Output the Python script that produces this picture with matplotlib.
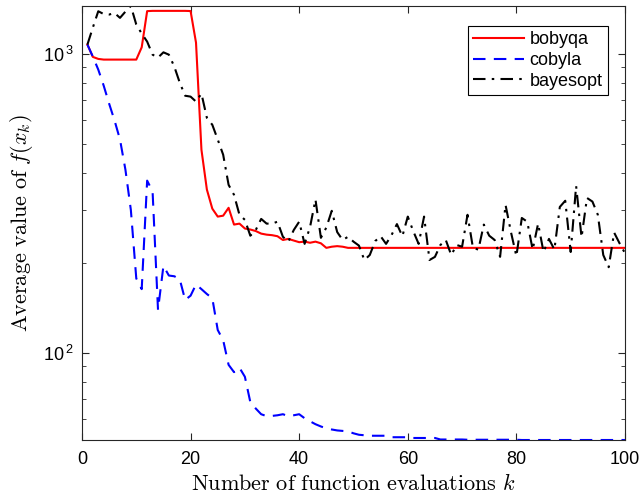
import numpy as np
import matplotlib
matplotlib.use("Agg")
import matplotlib.pyplot as plt
from matplotlib.ticker import FixedLocator, FuncFormatter, LogLocator, NullFormatter

plt.rcParams['mathtext.fontset'] = 'custom'
plt.rcParams['mathtext.rm'] = 'Liberation Sans'
plt.rcParams['font.family'] = ['Liberation Sans', 'DejaVu Sans']

evals = np.arange(1, 101)

bobyqa = [1072, 975, 960, 955, 955, 955, 955, 955, 955, 955,
          1050, 1387, 1390, 1390, 1390, 1390, 1390, 1390, 1390, 1388,
          1088, 477, 351, 303, 285, 287, 305, 268, 270, 260,
          258, 255, 250, 248, 247, 245, 238, 240, 237, 234,
          235, 233, 235, 232, 224, 226, 227, 226, 224, 224,
          224, 224, 224, 224, 224, 224, 224, 224, 224, 224,
          224, 224, 224, 224, 224, 224, 224, 224, 224, 224,
          224, 224, 224, 224, 224, 224, 224, 224, 224, 224,
          224, 224, 224, 224, 224, 224, 224, 224, 224, 224,
          224, 224, 224, 224, 224, 224, 224, 224, 224, 224]

cobyla = [1072, 977, 884, 781, 680, 597, 516, 409, 300, 177,
          163, 376, 346, 139, 195, 181, 180, 176, 150, 155,
          169, 163, 157, 152, 119, 110, 91, 86, 89, 83,
          68.3, 65.0, 62.2, 61.3, 61.4, 61.7, 62.2, 61.3, 61.7, 62.2,
          60.3, 58.9, 57.6, 56.6, 55.8, 55.3, 54.9, 54.7, 54.5, 53.7,
          53.1, 52.9, 52.7, 52.7, 52.7, 52.7, 52.1, 52.1, 52.1, 52.1,
          51.8, 51.8, 51.8, 51.8, 51.8, 51.2, 51.2, 51.2, 51.2, 51.2,
          51.1, 51.1, 51.1, 51.1, 51.1, 51.1, 51.1, 51.1, 51.1, 51.1,
          51.0, 51.0, 51.0, 51.0, 51.0, 51.0, 51.0, 51.0, 51.0, 51.0,
          51.0, 51.0, 51.0, 51.0, 51.0, 51.0, 51.0, 51.0, 51.0, 51.0]

bayesopt = [1072, 1222, 1386, 1356, 1351, 1367, 1317, 1382, 1443, 1251,
            1167, 1097, 992, 970, 1010, 992, 905, 800, 723, 718,
            691, 735, 610, 578, 516, 459, 364, 337, 289, 278,
            246, 257, 280, 270, 270, 274, 244, 235, 257, 274,
            231, 263, 325, 242, 262, 298, 253, 238, 244, 235,
            228, 204, 212, 236, 245, 231, 247, 269, 245, 285,
            255, 231, 285, 204, 209, 229, 238, 212, 229, 226,
            289, 224, 221, 268, 246, 238, 209, 312, 253, 210,
            282, 274, 221, 270, 217, 240, 221, 307, 322, 217,
            361, 243, 329, 320, 289, 212, 193, 252, 232, 215]

xticks = [0, 20, 40, 60, 80, 100]

fig = plt.figure(figsize=(6.42, 4.96), dpi=100)
ax = fig.add_axes([0.1277, 0.1129, 0.8458, 0.875])

ax.semilogy(evals, bobyqa, color=(1, 0, 0), lw=1.5, label='bobyqa')
ax.semilogy(evals, cobyla, color=(0, 0, 1), lw=1.5, ls=(0, (6, 4)), label='cobyla')
ax.semilogy(evals, bayesopt, color='k', lw=1.5, ls=(0, (6, 3, 1.2, 3)), label='bayesopt')

allv = np.concatenate([bobyqa, cobyla, bayesopt])
ax.set_xlim(0, 100)
ax.set_ylim(allv.min(), allv.max())

ax.xaxis.set_major_locator(FixedLocator(xticks))
ax.yaxis.set_major_locator(LogLocator(base=10, numticks=10))
ax.yaxis.set_minor_locator(LogLocator(base=10, subs=np.arange(2, 10), numticks=10))
ax.yaxis.set_minor_formatter(NullFormatter())
ax.yaxis.set_major_formatter(FuncFormatter(lambda v, p: r'$10^{\,%d}$' % round(np.log10(v))))

axcol = (0.15, 0.15, 0.15)
for s in ax.spines.values():
    s.set_color(axcol)
    s.set_linewidth(0.8)
ax.tick_params(which='both', direction='in', top=True, right=True, colors=axcol,
               labelcolor='black', labelsize=13)
ax.tick_params(which='major', length=5, width=0.8)
ax.tick_params(axis='x', which='major', pad=8)
ax.tick_params(axis='y', which='major', pad=6)
ax.tick_params(which='minor', length=3, width=0.6)

ax.set_xlabel(r'$\mathrm{Number\ of\ function\ evaluations\ }k$', fontsize=16,
              math_fontfamily='cm', labelpad=4)
ax.set_ylabel(r'$\mathrm{Average\ value\ of\ }f(x_k)$', fontsize=16,
              math_fontfamily='cm', labelpad=6)

leg = ax.legend(loc='upper right', fontsize=13, fancybox=False, framealpha=1,
                edgecolor='black', handlelength=2.8, borderpad=0.3,
                labelspacing=0.2, handletextpad=0.3, bbox_to_anchor=(0.985, 0.975))
leg.get_frame().set_linewidth(0.8)

fig.savefig('out.png', dpi=100)
